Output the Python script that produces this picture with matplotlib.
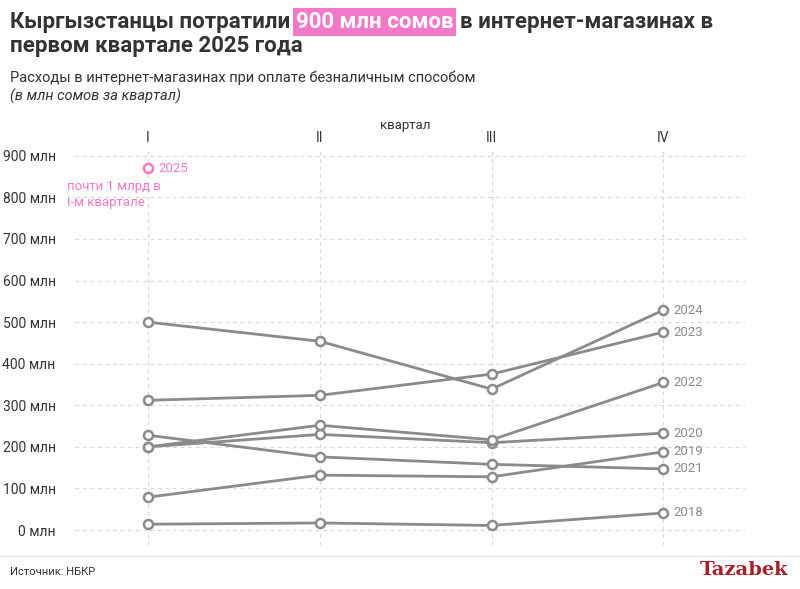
import matplotlib
matplotlib.use("Agg")
import matplotlib.pyplot as plt
from matplotlib.lines import Line2D

plt.rcParams['font.family'] = ['Roboto', 'DejaVu Sans']

quarters = ["I", "II", "III", "IV"]
data = {
    "2018": [14, 17, 11, 41],
    "2019": [79, 132, 128, 188],
    "2020": [200, 230, 210, 233],
    "2021": [228, 176, 158, 147],
    "2022": [200, 252, 217, 355],
    "2023": [312, 324, 375, 476],
    "2024": [500, 454, 339, 529],
}
q1_2025 = 870

grey = "#8c8a8a"
pink = "#f279c8"

fig = plt.figure(figsize=(8, 5.89), dpi=100)
ax = fig.add_axes([75 / 800, 44 / 589, 670 / 800, 395 / 589])
ax.set_xlim(-0.425, 3.475)
ax.set_ylim(-36, 914)

for year, vals in data.items():
    ax.plot(range(4), vals, color=grey, lw=2, marker="o", ms=6.5,
            mfc="white", mec=grey, mew=1.8, zorder=3)
    ax.text(3.06, vals[3], year, color=grey, fontsize=9.5, va="center", ha="left")

ax.plot([0], [q1_2025], marker="o", ms=6.5, mfc="white", mec=pink, mew=1.8, zorder=3)
ax.text(0.06, q1_2025, "2025", color=pink, fontsize=9.5, va="center")
ax.text(-0.47, 808, "почти 1 млрд в\nI-м квартале", color=pink, fontsize=9.5,
        va="center", ha="left", linespacing=1.3)

ax.set_yticks(range(0, 901, 100))
ax.set_yticklabels([f"{v} млн" for v in range(0, 901, 100)])
ax.set_xticks(range(4))
ax.set_xticklabels(quarters)
ax.xaxis.tick_top()
ax.tick_params(length=0, labelsize=10, colors="#333333")
ax.tick_params(axis="y", pad=14)
ax.grid(True, color="#d8d8d8", ls=(0, (3, 3)), lw=0.9)
ax.set_axisbelow(True)
for s in ax.spines.values():
    s.set_visible(False)
fig.text(405 / 800, 1 - 125 / 589, "квартал", fontsize=9.5, ha="center", va="center", color="#333333")

# title with highlighted part
fig.canvas.draw()
r = fig.canvas.get_renderer()
ty = 1 - 22 / 589
tfs = 16
t1 = fig.text(10 / 800, ty, "Кыргызстанцы потратили ", fontsize=tfs, weight="bold", color="#333333", va="center")
ext = t1.get_window_extent(r)
t2 = fig.text(ext.x1 / 800, ty, "900 млн сомов", fontsize=tfs, weight="bold", color="white", va="center",
              bbox=dict(boxstyle="square,pad=0.12", fc=pink, ec="none"))
ext2 = t2.get_window_extent(r)
fig.text(ext2.x1 / 800 + 0.008, ty, "в интернет-магазинах в", fontsize=tfs, weight="bold", color="#333333", va="center")
fig.text(10 / 800, 1 - 46 / 589, "первом квартале 2025 года", fontsize=tfs, weight="bold", color="#333333", va="center")
fig.text(10 / 800, 1 - 78 / 589, "Расходы в интернет-магазинах при оплате безналичным способом",
         fontsize=10.5, color="#333333", va="center")
fig.text(10 / 800, 1 - 96 / 589, "(в млн сомов за квартал)", fontsize=10.5, style="italic",
         color="#333333", va="center")

fig.add_artist(Line2D([0, 1], [1 - 556 / 589] * 2, color="#e6e6e6", lw=1))
fig.text(10 / 800, 1 - 572 / 589, "Источник: НБКР", fontsize=8, color="#333333", va="center")
fig.text(788 / 800, 1 - 570 / 589, "Tazabek", fontsize=14, color="#a3222a", va="center", ha="right",
         weight="bold", family="DejaVu Serif")

fig.savefig("out.png", dpi=100, facecolor="white")
